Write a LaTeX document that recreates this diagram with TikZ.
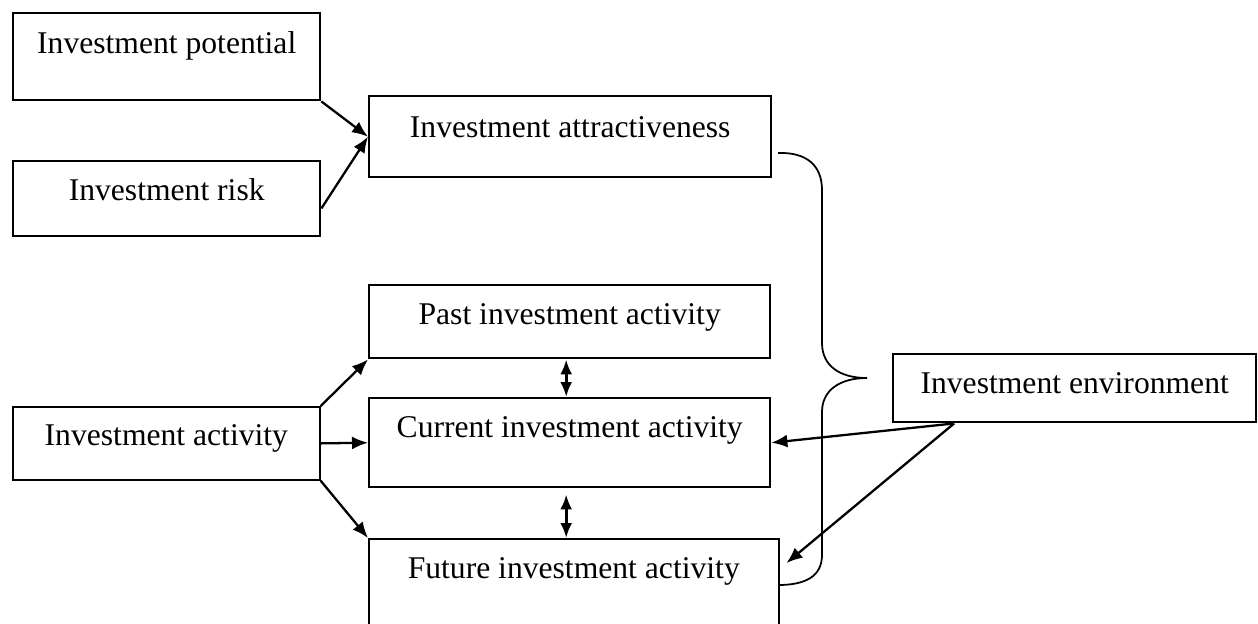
\documentclass[tikz,border=0pt]{standalone}
\usepackage{fontspec}
\setmainfont{Liberation Serif}
\usepackage{tikz}
\usetikzlibrary{arrows.meta, calc}

\begin{document}
\begin{tikzpicture}[x=0.02cm, y=-0.02cm,
    box/.style={draw, line width=1.4pt, anchor=north west, inner xsep=0pt, inner ysep=0pt,
        text height=0.78cm, font=\fontsize{18}{20}\selectfont},
    arr/.style={-{Latex[length=0.32cm,width=0.26cm]}, line width=1.3pt},
    dbl/.style={{Latex[length=0.3cm,width=0.24cm]}-{Latex[length=0.3cm,width=0.24cm]}, line width=1.6pt}]
    \useasboundingbox (0,0) rectangle (1258,623);
    \clip (0,0) rectangle (1258,623);

    \node[box, minimum width=6.14cm, text height=0.8cm, text depth=0.94cm] (pot) at (12,12) {Investment potential};
    \node[box, minimum width=6.14cm, text depth=0.72cm] (risk) at (12,160) {Investment risk};
    \node[box, minimum width=8.04cm, text height=0.82cm, text depth=0.8cm] (attr) at (368,95) {Investment attractiveness};

    \node[box, minimum width=8.02cm, text depth=0.68cm] (past) at (368,284) {Past investment activity};
    \node[box, minimum width=8.02cm, text depth=1.0cm] (cur) at (368,397) {Current investment activity};
    \node[box, line width=0.9pt, minimum width=8.2cm, text height=0.8cm, text depth=1.4cm] (fut) at (368,538) {Future investment activity};
    \node[box, line width=1pt, minimum width=6.14cm, text depth=0.68cm] (act) at (12,406) {Investment activity};
    \node[box, minimum width=7.26cm, text depth=0.58cm] (env) at (892,353) {Investment environment};

    \draw[arr] (pot.south east) -- (attr.west);
    \draw[arr] ($(risk.east)!0.25!(risk.south east)$) -- (attr.west);

    \draw[arr] (act.north east) -- (past.south west);
    \draw[arr] (act.east) -- (cur.west);
    \draw[arr] (act.south east) -- (fut.north west);

    \draw[dbl] ([xshift=-0.07cm]past.south) -- ([xshift=-0.07cm]cur.north);
    \draw[dbl] ([xshift=-0.07cm,yshift=-0.12cm]cur.south) -- ([xshift=-0.07cm]cur.south |- fut.north);

    \coordinate (envfoot) at ($(env.south west)!0.17!(env.south east)$);
    \coordinate (futtip) at ($(fut.north east)+(7,25)$);
    \draw[arr] (envfoot) -- (cur.east);
    \draw[arr] (envfoot) -- (futtip);

    \draw[line width=1pt] (778,153) .. controls (806,152) and (822,165) .. (822,190) -- (822,343)
        .. controls (822,366) and (840,378) .. (867,378)
        .. controls (840,378) and (822,390) .. (822,412) -- (822,555)
        .. controls (822,576) and (806,585) .. (778,585);
\end{tikzpicture}
\end{document}
